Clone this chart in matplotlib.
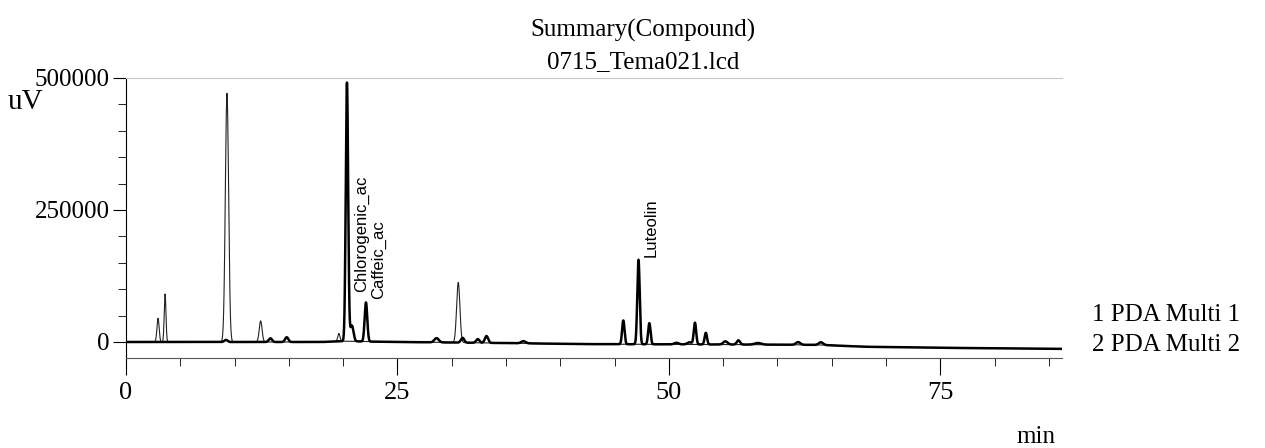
import numpy as np
import matplotlib.pyplot as plt
from matplotlib.ticker import MultipleLocator

plt.rcParams['font.family'] = ['Liberation Serif', 'DejaVu Serif']

# peak table (retention time min, height uV, sigma min)
thin_rt = [2.95, 3.6, 9.3, 12.4, 19.6, 30.6]
thin_h = [45000, 91000, 471000, 40000, 15000, 114000]
thin_w = [0.10, 0.08, 0.15, 0.13, 0.10, 0.15]

thick_rt = [9.2, 13.3, 14.8, 20.35, 20.8, 22.1, 28.6, 31.0, 32.4, 33.2, 36.6,
            45.8, 47.2, 48.2, 50.7, 51.9, 52.4, 53.4, 55.2, 56.4, 58.2, 61.9, 64.0]
thick_h = [4000, 7000, 9000, 490000, 30000, 74000, 8000, 9000, 7000, 13000, 4000,
           45000, 160000, 40000, 3000, 4000, 41000, 22000, 6000, 8000, 3000, 5000, 5000]
thick_w = [0.15, 0.15, 0.15, 0.11, 0.15, 0.12, 0.2, 0.15, 0.15, 0.15, 0.2,
           0.11, 0.11, 0.11, 0.2, 0.2, 0.11, 0.11, 0.2, 0.15, 0.3, 0.2, 0.2]

# baseline drift
bl_t = [0, 18, 20, 25, 35, 42, 60, 64, 68, 75, 86]
bl_v = [0, 0, 1500, 0, -2000, -4000, -5000, -5500, -9000, -11000, -13000]

peak_names = ['Chlorogenic_ac', 'Caffeic_ac', 'Luteolin']
peak_pos = [21.7, 23.3, 48.4]
peak_lab_y = [94000, 81000, 161000]


def trace(t, rts, hs, ws):
    y = np.interp(t, bl_t, bl_v)
    for r, h, w in zip(rts, hs, ws):
        y = y + h * np.exp(-0.5 * ((t - r) / w) ** 2)
    return y


t = np.linspace(0, 86.2, 8000)
y_thin = trace(t, thin_rt, thin_h, thin_w)
y_thick = trace(t, thick_rt, thick_h, thick_w)

fig = plt.figure(figsize=(12.65, 4.48), dpi=100)
ax = fig.add_axes([0.0996, 0.2009, 0.7399, 0.6250])

ax.plot(t, y_thin, color='#222222', lw=0.8)
ax.plot(t, y_thick, color='black', lw=1.8)

for name, x, yb in zip(peak_names, peak_pos, peak_lab_y):
    ax.text(x, yb, name, rotation=90, ha='center', va='bottom',
            family=['Liberation Sans', 'DejaVu Sans'], fontsize=12)

ax.set_xlim(0, 86.2)
ax.set_ylim(-30300, 500000)
ax.set_xticks([0, 25, 50, 75])
ax.set_yticks([0, 250000, 500000])
ax.xaxis.set_minor_locator(MultipleLocator(5))
ax.yaxis.set_minor_locator(MultipleLocator(50000))
ax.tick_params(axis='x', which='major', length=12, pad=5, labelsize=19)
ax.tick_params(axis='x', which='minor', length=5.8)
ax.tick_params(axis='y', which='major', length=9.4, pad=2.5, labelsize=18)
ax.tick_params(axis='y', which='minor', length=5.5)

ax.spines['right'].set_visible(False)
ax.spines['top'].set_color('#c8c8c8')
ax.spines['bottom'].set_color('#555555')

fig.text(0.5083, 0.931, 'Summary(Compound)', ha='center', va='center', fontsize=18)
fig.text(0.5083, 0.862, '0715_Tema021.lcd', ha='center', va='center', fontsize=18)
fig.text(0.006, 0.772, 'uV', ha='left', va='center', fontsize=21)
fig.text(0.863, 0.297, '1 PDA Multi 1', ha='left', va='center', fontsize=18)
fig.text(0.863, 0.230, '2 PDA Multi 2', ha='left', va='center', fontsize=18)
fig.text(0.819, 0.025, 'min', ha='center', va='center', fontsize=18)

fig.savefig('out.png', dpi=100)
